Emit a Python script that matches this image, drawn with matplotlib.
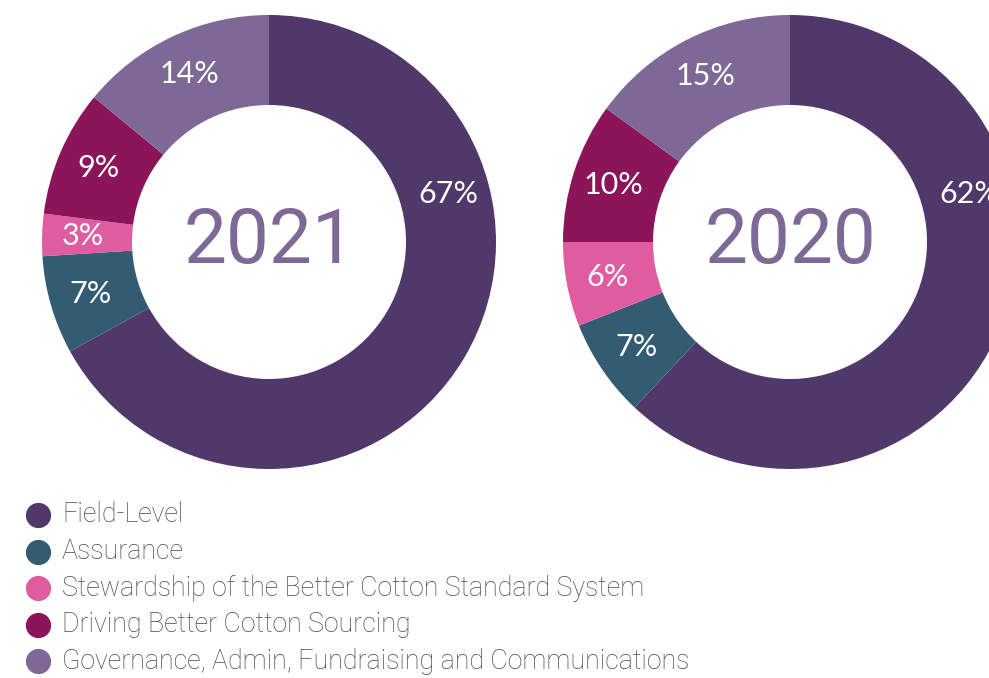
import numpy as np
import matplotlib
matplotlib.use("Agg")
import matplotlib.pyplot as plt

categories = [
    "Field-Level",
    "Assurance",
    "Stewardship of the Better Cotton Standard System",
    "Driving Better Cotton Sourcing",
    "Governance, Admin, Fundraising and Communications",
]
colors = ["#50386a", "#335c72", "#e05ca0", "#8b1558", "#7d6896"]
years = ["2021", "2020"]
shares_2021 = [67, 7, 3, 9, 14]
shares_2020 = [62, 7, 6, 10, 15]

W, H = 989, 678
fig = plt.figure(figsize=(W / 100, H / 100), dpi=100)
ax = fig.add_axes([0, 0, 1, 1])

outer_r = 227
ring_w = 90
label_r = 186
centers = [(269, H - 242), (790, H - 242)]

for year, shares, (cx, cy) in zip(years, [shares_2021, shares_2020], centers):
    ax.pie(
        shares,
        colors=colors,
        startangle=90,
        counterclock=False,
        radius=outer_r,
        center=(cx, cy),
        wedgeprops=dict(width=ring_w, linewidth=0),
        frame=True,
    )
    # percentage labels at the wedge middles, the big wedge label sits high on the right
    start = 90.0
    for i, v in enumerate(shares):
        span = 360.0 * v / sum(shares)
        mid = start - span / 2
        if i == 0:
            mid = 15
        a = np.deg2rad(mid)
        ax.text(cx + label_r * np.cos(a), cy + label_r * np.sin(a), f"{v}%",
                color="white", fontsize=22, family="Lato",
                ha="center", va="center")
        start -= span
    ax.text(cx, cy, year, color="#7d6896", fontsize=55, family="Roboto",
            ha="center", va="center")

# legend
for i, (name, c) in enumerate(zip(categories, colors)):
    y = H - 515 - i * 36.6
    ax.scatter([38], [y], s=330, color=c, linewidths=0, zorder=3)
    ax.text(62, y, name, color="#4a4a4a", fontsize=19.3, family="Roboto",
            fontweight="light", ha="left", va="center")

ax.set_xlim(0, W)
ax.set_ylim(0, H)
ax.set_aspect("equal")
ax.axis("off")
fig.savefig("out.png", dpi=100)
